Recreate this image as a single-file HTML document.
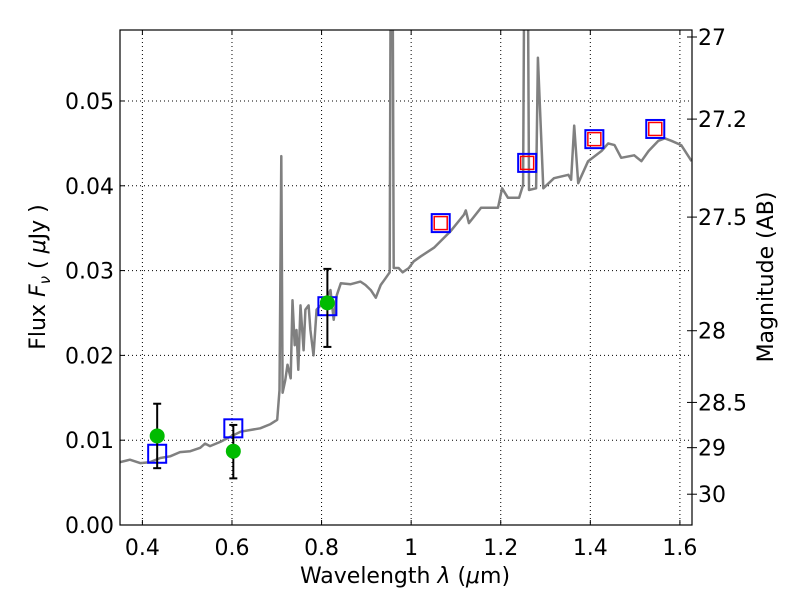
<!DOCTYPE html>
<html><head><meta charset="utf-8"><style>
html,body{margin:0;padding:0;background:#fff;}
svg text{font-family:"DejaVu Sans","Liberation Sans",sans-serif;font-size:22px;fill:#000;}
</style></head><body>
<svg id="chart" width="800" height="600" xmlns="http://www.w3.org/2000/svg">
<defs><clipPath id="clip"><rect x="120" y="30" width="572" height="495"/></clipPath></defs>
<rect x="0" y="0" width="800" height="600" fill="#fff"/>
<g id="grid"></g>
<g id="spec" clip-path="url(#clip)"></g>
<g id="marks"></g>
<rect x="120" y="30" width="572" height="495" fill="none" stroke="#000" stroke-width="1.2"/>
<g id="axes"></g>
<text x="405" y="583" text-anchor="middle">Wavelength  <tspan font-style="italic">λ</tspan> (<tspan font-style="italic">μ</tspan>m)</text>
<text transform="translate(45,277) rotate(-90)" text-anchor="middle">Flux  <tspan font-style="italic">F</tspan><tspan font-style="italic" font-size="15" dy="5">ν</tspan><tspan dy="-5">  ( </tspan><tspan font-style="italic">μ</tspan>Jy )</text>
<text transform="translate(773,277) rotate(-90)" text-anchor="middle">Magnitude (AB)</text>
</svg>
<script>
const specWave=[0.350,0.372,0.395,0.417,0.440,0.462,0.484,0.507,0.529,0.540,0.551,0.574,0.596,0.619,0.641,0.663,0.686,0.701,0.706,0.710,0.713,0.719,0.724,0.731,0.735,0.740,0.744,0.748,0.753,0.760,0.764,0.771,0.775,0.782,0.789,0.798,0.809,0.820,0.827,0.834,0.843,0.865,0.887,0.898,0.910,0.921,0.932,0.943,0.952,0.954,0.959,0.961,0.972,0.981,0.995,1.006,1.022,1.051,1.089,1.118,1.122,1.129,1.156,1.194,1.203,1.216,1.241,1.250,1.252,1.261,1.263,1.279,1.283,1.295,1.319,1.351,1.357,1.364,1.373,1.395,1.425,1.440,1.454,1.469,1.498,1.514,1.530,1.552,1.566,1.581,1.603,1.626];
const specFlux=[0.0074,0.0077,0.0073,0.0074,0.0079,0.0081,0.0086,0.0087,0.0091,0.0096,0.0093,0.0098,0.0104,0.0110,0.0112,0.0114,0.0119,0.0124,0.0159,0.0435,0.0156,0.0171,0.0189,0.0173,0.0265,0.0212,0.0230,0.0183,0.0259,0.0206,0.0254,0.0259,0.0230,0.0200,0.0254,0.0259,0.0265,0.0277,0.0242,0.0271,0.0285,0.0284,0.0287,0.0283,0.0277,0.0268,0.0283,0.0291,0.0298,0.060,0.060,0.0303,0.0303,0.0298,0.0303,0.0311,0.0317,0.0327,0.0347,0.0366,0.0371,0.0356,0.0374,0.0374,0.0397,0.0386,0.0386,0.0401,0.060,0.060,0.0395,0.0397,0.0551,0.0397,0.0409,0.0413,0.0407,0.0471,0.0403,0.0429,0.0441,0.0450,0.0448,0.0433,0.0436,0.0429,0.0441,0.0453,0.0456,0.0453,0.0448,0.0429];
const obsWave=[0.433,0.603,0.813];
const obsFlux=[0.0105,0.0087,0.0262];
const obsLo=[0.0067,0.0055,0.0210];
const obsHi=[0.0143,0.0118,0.0302];
const modelWave=[0.433,0.603,0.813,1.066,1.259,1.409,1.545];
const modelFlux=[0.0084,0.0114,0.0258,0.0356,0.0427,0.0455,0.0467];
const redWave=[1.066,1.259,1.409,1.545];
const redFlux=[0.0356,0.0427,0.0455,0.0467];
const xTicks=[0.4,0.6,0.8,1.0,1.2,1.4,1.6];
const xTickLabels=["0.4","0.6","0.8","1","1.2","1.4","1.6"];
const yTicks=[0,0.01,0.02,0.03,0.04,0.05];
const yTickLabels=["0.00","0.01","0.02","0.03","0.04","0.05"];
const magTicks=[27,27.2,27.5,28,28.5,29,30];
const magTickLabels=["27","27.2","27.5","28","28.5","29","30"];

const X0=120,X1=692,Y0=525,Y1=30,XMIN=0.35,XMAX=1.627,YMIN=0,YMAX=0.05837;
const sx=v=>X0+(v-XMIN)/(XMAX-XMIN)*(X1-X0);
const sy=v=>Y0-(v-YMIN)/(YMAX-YMIN)*(Y0-Y1);
const NS="http://www.w3.org/2000/svg";
function mk(tag,attrs,parent){const e=document.createElementNS(NS,tag);for(const k in attrs)e.setAttribute(k,attrs[k]);parent.appendChild(e);return e;}
const grid=document.getElementById('grid'),axes=document.getElementById('axes'),spec=document.getElementById('spec'),marks=document.getElementById('marks');
xTicks.forEach((t,i)=>{const x=sx(t);
 let g=mk('line',{x1:x,x2:x,y1:Y1,y2:Y0,stroke:'#000','stroke-width':1,'stroke-dasharray':'1,3'},grid);
 
 mk('line',{x1:x,x2:x,y1:Y0,y2:Y0-5,stroke:'#000'},axes);mk('line',{x1:x,x2:x,y1:Y1,y2:Y1+5,stroke:'#000'},axes);
 let tx=mk('text',{x:x,y:Y0+30,'text-anchor':'middle'},axes);tx.textContent=xTickLabels[i];
 });
yTicks.forEach((t,i)=>{const y=sy(t);
 let g=mk('line',{x1:X0,x2:X1,y1:y,y2:y,stroke:'#000','stroke-width':1,'stroke-dasharray':'1,3'},grid);
 
 mk('line',{x1:X0,x2:X0+5,y1:y,y2:y,stroke:'#000'},axes);
 let tx=mk('text',{x:X0-6,y:y+8,'text-anchor':'end'},axes);tx.textContent=yTickLabels[i];
 });
magTicks.forEach((m,i)=>{const f=Math.pow(10,(23.9-m)/2.5);const y=Math.max(sy(f),Y1);
 mk('line',{x1:X1,x2:X1+5,y1:y,y2:y,stroke:'#000'},axes);mk('line',{x1:X1,x2:X1-5,y1:y,y2:y,stroke:'#000'},axes);
 let tx=mk('text',{x:X1+6,y:y+8,'text-anchor':'start'},axes);tx.textContent=magTickLabels[i];
 });
let d=specWave.map((w,i)=>(i?'L':'M')+sx(w).toFixed(1)+','+sy(specFlux[i]).toFixed(1)).join(' ');
let p=mk('path',{d:d,fill:'none',stroke:'#808080','stroke-width':2.5,'stroke-linejoin':'round'},spec);

modelWave.forEach((w,i)=>{const x=sx(w),y=sy(modelFlux[i]);
 let r=mk('rect',{x:x-9,y:y-9,width:18,height:18,fill:'none',stroke:'#0000ff','stroke-width':2},marks);
 });
redWave.forEach((w,i)=>{const x=sx(w),y=sy(redFlux[i]);
 let r=mk('rect',{x:x-6.5,y:y-6.5,width:13,height:13,fill:'none',stroke:'#ff0000','stroke-width':1.5},marks);
 });
obsWave.forEach((w,i)=>{const x=sx(w);
 let e=mk('g',{},marks);
 mk('line',{x1:x,x2:x,y1:sy(obsLo[i]),y2:sy(obsHi[i]),stroke:'#000','stroke-width':2},e);
 mk('line',{x1:x-4,x2:x+4,y1:sy(obsLo[i]),y2:sy(obsLo[i]),stroke:'#000','stroke-width':2},e);
 mk('line',{x1:x-4,x2:x+4,y1:sy(obsHi[i]),y2:sy(obsHi[i]),stroke:'#000','stroke-width':2},e);
 let c=mk('circle',{cx:x,cy:sy(obsFlux[i]),r:7.5,fill:'#00bb00'},marks);
 });
</script>
</body></html>
